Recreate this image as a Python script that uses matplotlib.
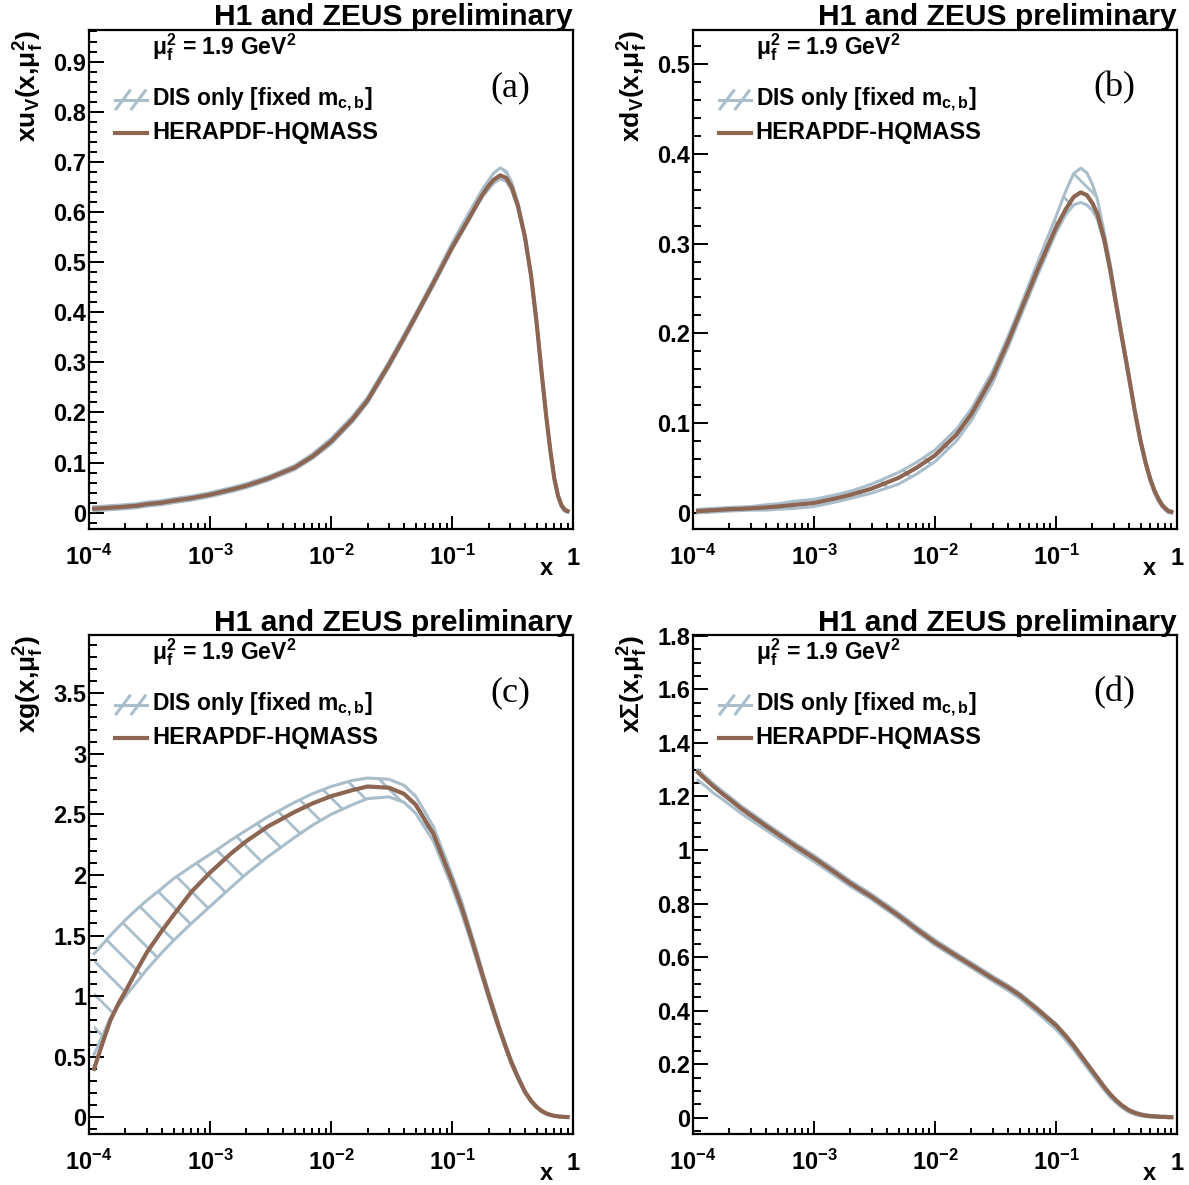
import matplotlib
matplotlib.use('Agg')
import matplotlib.pyplot as plt
from matplotlib.ticker import FixedLocator, MultipleLocator, FuncFormatter, LogLocator, NullFormatter

plt.rcParams['font.family'] = ['Liberation Sans', 'DejaVu Sans']
plt.rcParams['font.weight'] = 'bold'
plt.rcParams['mathtext.fontset'] = 'custom'
plt.rcParams['mathtext.rm'] = 'Liberation Sans:bold'
plt.rcParams['mathtext.it'] = 'Liberation Sans:bold'
plt.rcParams['mathtext.bf'] = 'Liberation Sans:bold'
plt.rcParams['mathtext.default'] = 'rm'
plt.rcParams['hatch.linewidth'] = 2.0

BAND = '#a9bdca'
LINE = '#8c6553'

# x grid shared by all four panels
x = [1.1e-4, 1.3e-4, 1.5e-4, 1.75e-4, 2e-4, 2.5e-4, 3e-4, 4e-4, 5e-4, 7e-4,
     1e-3, 1.5e-3, 2e-3, 3e-3, 5e-3, 7e-3, 1e-2, 1.5e-2, 2e-2, 3e-2, 4e-2, 5e-2, 7e-2,
     0.1, 0.12, 0.14, 0.16, 0.18, 0.2, 0.22, 0.25, 0.28, 0.31, 0.35, 0.4, 0.45,
     0.5, 0.55, 0.6, 0.65, 0.7, 0.75, 0.8, 0.85, 0.9]

# (a) xu_v
uv_c = [0.008, 0.009, 0.010, 0.011, 0.012, 0.014, 0.017, 0.020, 0.024, 0.029,
        0.036, 0.046, 0.054, 0.068, 0.090, 0.112, 0.142, 0.186, 0.224, 0.295, 0.349, 0.392, 0.458,
        0.529, 0.562, 0.590, 0.615, 0.636, 0.652, 0.664, 0.673, 0.668, 0.650, 0.612, 0.550, 0.472,
        0.378, 0.278, 0.192, 0.122, 0.068, 0.034, 0.015, 0.006, 0.003]
uv_up = [0.012, 0.013, 0.014, 0.015, 0.016, 0.018, 0.021, 0.024, 0.028, 0.033,
         0.040, 0.050, 0.058, 0.072, 0.094, 0.117, 0.148, 0.192, 0.230, 0.301, 0.355, 0.398, 0.464,
         0.538, 0.573, 0.601, 0.626, 0.647, 0.663, 0.677, 0.688, 0.681, 0.660, 0.619, 0.554, 0.476,
         0.382, 0.282, 0.196, 0.126, 0.070, 0.036, 0.017, 0.008, 0.005]
uv_lo = [0.004, 0.005, 0.006, 0.007, 0.008, 0.010, 0.013, 0.016, 0.020, 0.025,
         0.032, 0.042, 0.050, 0.064, 0.086, 0.108, 0.137, 0.181, 0.219, 0.290, 0.344, 0.387, 0.453,
         0.525, 0.558, 0.586, 0.611, 0.632, 0.645, 0.657, 0.666, 0.661, 0.644, 0.608, 0.546, 0.468,
         0.374, 0.274, 0.188, 0.118, 0.065, 0.031, 0.012, 0.003, 0.001]

# (b) xd_v
dv_c = [0.002, 0.0025, 0.003, 0.0035, 0.004, 0.0045, 0.005, 0.006, 0.007, 0.009,
        0.011, 0.016, 0.020, 0.027, 0.039, 0.050, 0.064, 0.087, 0.110, 0.152, 0.190, 0.222, 0.270,
        0.318, 0.338, 0.352, 0.357, 0.354, 0.345, 0.333, 0.305, 0.272, 0.237, 0.196, 0.152, 0.112,
        0.080, 0.056, 0.038, 0.025, 0.016, 0.009, 0.005, 0.002, 0.001]
dv_up = [0.004, 0.0045, 0.005, 0.0055, 0.006, 0.0065, 0.007, 0.009, 0.010, 0.013,
         0.015, 0.020, 0.024, 0.032, 0.045, 0.056, 0.070, 0.093, 0.116, 0.158, 0.196, 0.228, 0.278,
         0.330, 0.358, 0.378, 0.384, 0.379, 0.366, 0.349, 0.313, 0.278, 0.242, 0.200, 0.155, 0.114,
         0.082, 0.058, 0.040, 0.026, 0.017, 0.010, 0.006, 0.003, 0.002]
dv_lo = [0.000, 0.0005, 0.001, 0.0015, 0.002, 0.0025, 0.003, 0.003, 0.004, 0.005,
         0.007, 0.012, 0.016, 0.022, 0.032, 0.043, 0.057, 0.080, 0.103, 0.145, 0.184, 0.216, 0.264,
         0.312, 0.332, 0.343, 0.346, 0.343, 0.337, 0.327, 0.301, 0.268, 0.233, 0.193, 0.149, 0.109,
         0.077, 0.053, 0.035, 0.022, 0.013, 0.007, 0.003, 0.000, 0.000]

# (c) xg
g_c = [0.40, 0.62, 0.80, 0.94, 1.04, 1.22, 1.36, 1.54, 1.67, 1.86,
       2.02, 2.18, 2.28, 2.40, 2.52, 2.59, 2.65, 2.70, 2.73, 2.72, 2.67, 2.58, 2.34,
       1.95, 1.73, 1.52, 1.33, 1.16, 1.01, 0.88, 0.71, 0.57, 0.45, 0.33, 0.21, 0.135,
       0.085, 0.052, 0.032, 0.020, 0.012, 0.008, 0.005, 0.003, 0.002]
g_up = [1.35, 1.43, 1.50, 1.57, 1.63, 1.72, 1.79, 1.89, 1.97, 2.07,
        2.17, 2.29, 2.37, 2.48, 2.60, 2.67, 2.73, 2.78, 2.80, 2.79, 2.74, 2.65, 2.40,
        2.00, 1.78, 1.56, 1.37, 1.19, 1.04, 0.91, 0.73, 0.59, 0.47, 0.345, 0.22, 0.142,
        0.090, 0.056, 0.036, 0.023, 0.015, 0.011, 0.008, 0.006, 0.005]
g_lo = [0.52, 0.68, 0.82, 0.92, 1.00, 1.12, 1.22, 1.36, 1.46, 1.60,
        1.74, 1.90, 2.01, 2.15, 2.31, 2.41, 2.50, 2.58, 2.63, 2.645, 2.60, 2.51, 2.28,
        1.90, 1.68, 1.48, 1.29, 1.13, 0.98, 0.85, 0.69, 0.55, 0.43, 0.315, 0.20, 0.128,
        0.080, 0.048, 0.028, 0.017, 0.009, 0.005, 0.002, 0.000, 0.000]

# (d) xSigma
s_c = [1.29, 1.26, 1.235, 1.21, 1.19, 1.155, 1.13, 1.09, 1.06, 1.015,
       0.97, 0.915, 0.875, 0.825, 0.755, 0.705, 0.655, 0.605, 0.57, 0.52, 0.487, 0.458, 0.405,
       0.345, 0.306, 0.269, 0.233, 0.202, 0.174, 0.149, 0.115, 0.088, 0.067, 0.046, 0.028, 0.018,
       0.012, 0.008, 0.006, 0.005, 0.004, 0.003, 0.003, 0.002, 0.002]
s_up = [1.30, 1.27, 1.245, 1.22, 1.20, 1.165, 1.14, 1.10, 1.07, 1.025,
        0.98, 0.925, 0.885, 0.835, 0.765, 0.715, 0.665, 0.614, 0.579, 0.529, 0.495, 0.466, 0.412,
        0.351, 0.311, 0.274, 0.238, 0.206, 0.178, 0.153, 0.119, 0.091, 0.070, 0.049, 0.031, 0.021,
        0.015, 0.011, 0.009, 0.008, 0.007, 0.006, 0.006, 0.005, 0.005]
s_lo = [1.26, 1.235, 1.21, 1.19, 1.17, 1.137, 1.113, 1.075, 1.046, 1.002,
        0.957, 0.903, 0.864, 0.815, 0.745, 0.695, 0.645, 0.595, 0.56, 0.51, 0.476, 0.446, 0.392,
        0.330, 0.291, 0.254, 0.219, 0.188, 0.160, 0.136, 0.103, 0.077, 0.058, 0.038, 0.021, 0.012,
        0.007, 0.004, 0.003, 0.002, 0.001, 0.001, 0.001, 0.000, 0.000]

xticks = [1e-4, 1e-3, 1e-2, 1e-1, 1]
xtick_labels = ['$10^{-4}$', '$10^{-3}$', '$10^{-2}$', '$10^{-1}$', '$1$']

title = 'H1 and ZEUS preliminary'
scale_text = r'$\mu_{f}^{2}$ = 1.9 GeV$^{2}$'
leg_band = r'DIS only [fixed m$_{c,b}$]'
leg_line = 'HERAPDF-HQMASS'

panels = [
    # position, central, up, lo, ylim, major, minor, ylabel, tag
    ([0.0749, 0.5536, 0.4071, 0.4211], uv_c, uv_up, uv_lo, (-0.0325, 0.963), 0.1, 0.02,
     r'x$u_{V}$(x,$\mu_{f}^{2}$)', '(a)'),
    ([0.5828, 0.5536, 0.4071, 0.4211], dv_c, dv_up, dv_lo, (-0.018, 0.538), 0.1, 0.02,
     r'x$d_{V}$(x,$\mu_{f}^{2}$)', '(b)'),
    ([0.0749, 0.0430, 0.4071, 0.4211], g_c, g_up, g_lo, (-0.138, 3.98), 0.5, 0.1,
     r'xg(x,$\mu_{f}^{2}$)', '(c)'),
    ([0.5828, 0.0430, 0.4071, 0.4211], s_c, s_up, s_lo, (-0.061, 1.803), 0.2, 0.05,
     r'x$\Sigma$(x,$\mu_{f}^{2}$)', '(d)'),
]

fig = plt.figure(figsize=(11.89, 11.85), dpi=100)

for pos, c, up, lo, ylim, major, minor, ylabel, tag in panels:
    ax = fig.add_axes(pos)
    ax.fill_between(x, lo, up, facecolor='none', edgecolor=BAND, hatch='\\', linewidth=0)
    ax.plot(x, up, color=BAND, lw=2.2)
    ax.plot(x, lo, color=BAND, lw=2.2)
    ax.plot(x, c, color=LINE, lw=3)

    ax.set_xscale('log')
    ax.set_xlim(1e-4, 1)
    ax.set_ylim(*ylim)
    for s in ax.spines.values():
        s.set_linewidth(1.6)

    ax.xaxis.set_major_locator(FixedLocator(xticks))
    ax.xaxis.set_major_formatter(FuncFormatter(lambda v, p: xtick_labels[xticks.index(v)] if v in xticks else ''))
    ax.xaxis.set_minor_locator(LogLocator(base=10, subs=range(2, 10), numticks=20))
    ax.xaxis.set_minor_formatter(NullFormatter())
    ax.yaxis.set_major_locator(MultipleLocator(major))
    ax.yaxis.set_minor_locator(MultipleLocator(minor))
    ax.yaxis.set_major_formatter(FuncFormatter(lambda v, p: f'{v:g}'))

    ax.tick_params(which='both', direction='in', top=False, right=False, width=1.4, labelsize=17)
    ax.tick_params(axis='x', which='major', length=9.5, pad=26)
    ax.tick_params(axis='x', which='minor', length=4.5)
    ax.tick_params(axis='y', which='major', length=11, pad=2)
    ax.tick_params(axis='y', which='minor', length=6)
    for t in ax.xaxis.get_major_ticks():
        t.label1.set_verticalalignment('baseline')

    ax.text(1.0, 1.009, title, transform=ax.transAxes, ha='right', va='baseline',
            fontsize=21.6, fontweight='bold')
    ax.text(0.944, -0.079, 'x', transform=ax.transAxes, ha='center', va='center', fontsize=17)
    ax.text(-0.125, 1.0, ylabel, transform=ax.transAxes, rotation=90, ha='center', va='top',
            fontsize=19)

    ax.text(0.13, 0.965, scale_text, transform=ax.transAxes, ha='left', va='center', fontsize=16.5)
    ax.text(0.87, 0.884, tag, transform=ax.transAxes, ha='center', va='center',
            fontsize=26, fontweight='normal', family='Liberation Serif')

    # legend
    ax.plot([0.056, 0.084], [0.842, 0.878], color=BAND, lw=2.2, transform=ax.transAxes)
    ax.plot([0.088, 0.116], [0.842, 0.878], color=BAND, lw=2.2, transform=ax.transAxes)
    ax.plot([0.054, 0.12], [0.860, 0.860], color=BAND, lw=2.2, transform=ax.transAxes)
    ax.text(0.13, 0.860, leg_band, transform=ax.transAxes, ha='left', va='center', fontsize=16.5)
    ax.plot([0.054, 0.12], [0.794, 0.794], color=LINE, lw=3, transform=ax.transAxes)
    ax.text(0.13, 0.794, leg_line, transform=ax.transAxes, ha='left', va='center', fontsize=17)

fig.savefig('out.png', dpi=100)
